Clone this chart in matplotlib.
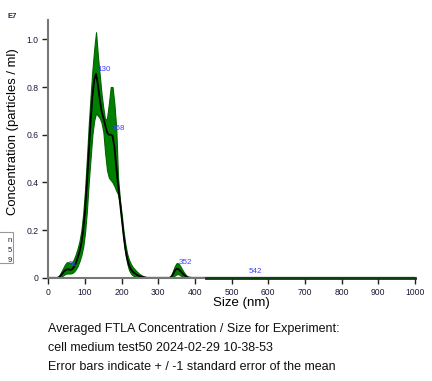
import numpy as np
import matplotlib
matplotlib.use('Agg')
import matplotlib.pyplot as plt
from matplotlib.patches import Rectangle

plt.rcParams['font.family'] = ['Liberation Sans', 'DejaVu Sans']

# Size bins (nm) and averaged concentration (x 1E7 particles / ml)
sizes = [0, 10, 20, 25, 30, 35, 40, 45, 50, 55, 60, 65, 70, 75, 80, 85, 90, 95,
         100, 105, 110, 115, 120, 125, 130, 135, 140, 145, 150, 155, 160, 165,
         170, 175, 180, 185, 190, 195, 200, 205, 210, 215, 220, 225, 230, 240,
         250, 260, 270, 280, 300, 320, 330, 335, 340, 345, 350, 355, 360, 365,
         370, 375, 380, 390, 400, 430, 500, 600, 700, 800, 900, 1000]
mean = [0, 0, 0, 0, 0.004, 0.012, 0.022, 0.03, 0.035, 0.036, 0.033, 0.036,
        0.046, 0.062, 0.085, 0.11, 0.145, 0.2, 0.28, 0.39, 0.52, 0.65, 0.76,
        0.83, 0.855, 0.81, 0.75, 0.70, 0.67, 0.64, 0.61, 0.60, 0.60, 0.595,
        0.55, 0.47, 0.39, 0.32, 0.25, 0.18, 0.12, 0.08, 0.052, 0.036, 0.026,
        0.013, 0.006, 0.002, 0, 0, 0, 0, 0, 0.004, 0.015, 0.03, 0.038, 0.036,
        0.028, 0.02, 0.012, 0.006, 0.002, 0, 0, 0, 0, 0, 0, 0, 0, 0]
lower = [0, 0, 0, 0, 0, 0.003, 0.01, 0.015, 0.018, 0.018, 0.018, 0.02, 0.026,
         0.036, 0.05, 0.07, 0.095, 0.13, 0.19, 0.28, 0.40, 0.50, 0.60, 0.66,
         0.69, 0.68, 0.67, 0.65, 0.61, 0.52, 0.45, 0.42, 0.41, 0.40, 0.385,
         0.365, 0.35, 0.31, 0.235, 0.165, 0.10, 0.06, 0.032, 0.018, 0.01,
         0.003, 0, 0, 0, 0, 0, 0, 0, 0, 0.003, 0.01, 0.015, 0.015, 0.01, 0.006,
         0.003, 0.001, 0, 0, 0, 0, 0, 0, 0, 0, 0, 0]
upper = [0, 0, 0, 0.002, 0.01, 0.025, 0.04, 0.055, 0.065, 0.065, 0.06, 0.065,
         0.08, 0.1, 0.125, 0.155, 0.2, 0.27, 0.37, 0.5, 0.64, 0.76, 0.87, 0.96,
         1.03, 0.93, 0.85, 0.77, 0.71, 0.66, 0.67, 0.73, 0.80, 0.80, 0.73,
         0.63, 0.42, 0.33, 0.265, 0.195, 0.14, 0.1, 0.075, 0.058, 0.045,
         0.028, 0.014, 0.006, 0.001, 0, 0, 0, 0, 0.01, 0.03, 0.05, 0.062,
         0.06, 0.048, 0.035, 0.022, 0.012, 0.005, 0, 0, 0, 0, 0, 0, 0, 0, 0]

# peak annotations: size and label height
peak_sizes = [51, 130, 168, 352, 542]
peak_heights = [0.042, 0.86, 0.61, 0.048, 0.01]

fig = plt.figure(figsize=(4.32, 3.81), dpi=100)
ax = fig.add_axes([48.4 / 432, 1 - 277.8 / 381, (415 - 48.4) / 432, (277.8 - 20) / 381])

ax.fill_between(sizes, lower, upper, color='#008000', edgecolor='#006400', linewidth=0.8, zorder=2)
ax.plot(sizes, mean, color='black', linewidth=1.3, zorder=3)

# tail of the baseline drawn dark green over the axis
tail = [i for i, s in enumerate(sizes) if s >= 430]
ax.plot([sizes[i] for i in tail], [mean[i] for i in tail], color='#0b3d0b', linewidth=2, zorder=4, clip_on=False)

for s, h in zip(peak_sizes, peak_heights):
    ax.annotate(str(s), (s, h), xytext=(1, 0), textcoords='offset points',
                color='#4040ff', fontsize=5.8, ha='left', va='bottom', zorder=6)

ax.set_xlim(0, 1000)
ax.set_ylim(0, 1.081)
ax.set_xticks(range(0, 1001, 100))
ax.set_yticks([0, 0.2, 0.4, 0.6, 0.8, 1.0])
ax.set_yticklabels(['0', '0.2', '0.4', '0.6', '0.8', '1.0'])
ax.tick_params(labelsize=6.2, length=4, width=1, colors='#222222', labelcolor='#1a1a3a', pad=3)

for side in ['top', 'right']:
    ax.spines[side].set_visible(False)
for side in ['left', 'bottom']:
    ax.spines[side].set_color('#777777')
    ax.spines[side].set_linewidth(1.5)
    ax.spines[side].set_zorder(3.5)

ax.set_xlabel('Size (nm)', fontsize=9.5)
ax.xaxis.set_label_coords(0.527, -0.075)
fig.text(13 / 432, 1 - 132 / 381, 'Concentration (particles / ml)', fontsize=9.4,
         rotation=90, ha='center', va='center')

fig.text(7 / 432, 1 - 18 / 381, 'E7', fontsize=5.5, fontweight='bold', color='#202050')

# clipped legend box at the left edge
fig.patches.append(Rectangle((-20 / 432, 1 - 263 / 381), 33 / 432, 31 / 381,
                             transform=fig.transFigure, facecolor='white',
                             edgecolor='#999999', linewidth=0.8))
for i, t in enumerate(['n', '5', '9']):
    fig.text(11.5 / 432, 1 - (240 + i * 10.5) / 381, t, fontsize=5.5, ha='right', va='center', color='#1a1a3a')

notes = ['Averaged FTLA Concentration / Size for Experiment:',
         'cell medium test50 2024-02-29 10-38-53',
         'Error bars indicate + / -1 standard error of the mean']
for i, line in enumerate(notes):
    fig.text(48 / 432, 1 - (329 + i * 19) / 381, line, fontsize=9, va='center', color='#111111')

fig.savefig('out.png', dpi=100)
